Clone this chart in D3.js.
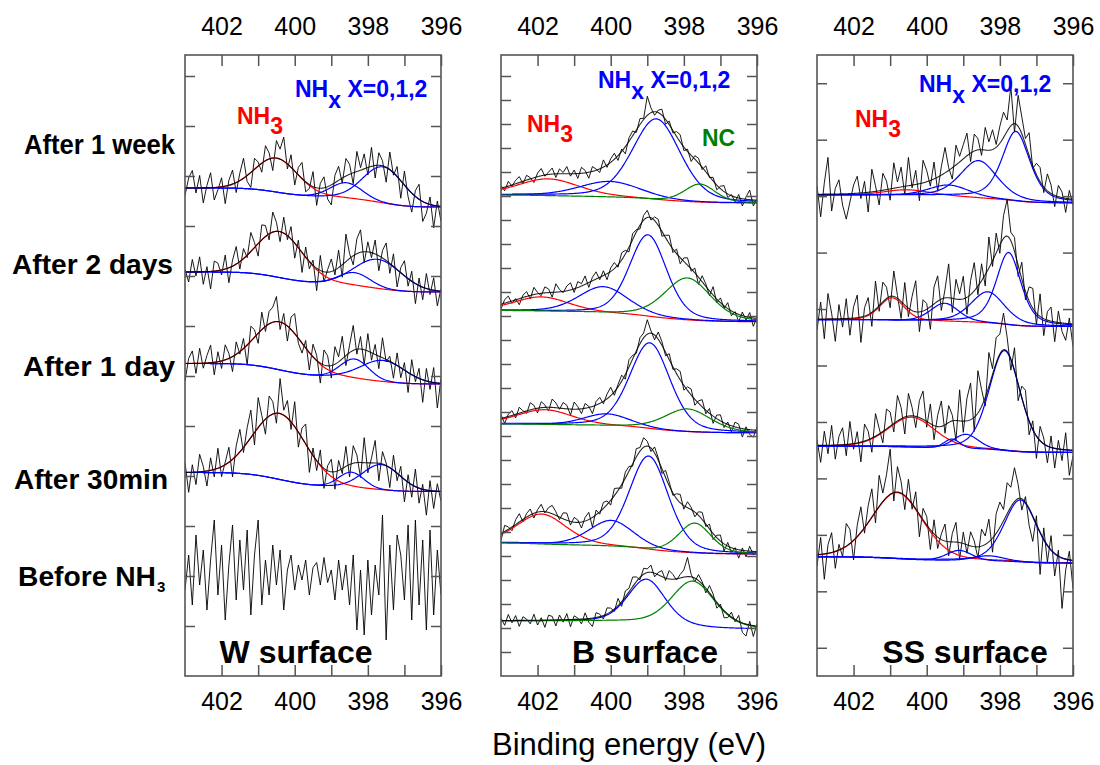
<!DOCTYPE html>
<html>
<head>
<meta charset="utf-8">
<script src="https://cdn.jsdelivr.net/npm/d3@7"></script>
<style>
  body { margin: 0; background: #fff; }
  text { font-family: "Liberation Sans", Arial, sans-serif; }
</style>
</head>
<body>
<svg id="chart" width="1100" height="765"></svg>
<script>
// ---- data ----
const energyRange = [403, 396];
const energyTicks = [402, 400, 398, 396];
const rowLabels = ['After 1 week', 'After 2 days', 'After 1 day', 'After 30min', 'Before NH'];
const panelTitles = ['W surface', 'B surface', 'SS surface'];

// background level [high BE end, low BE end], in panel units
const wBackground = [[9.76, 9.38], [8.08, 7.68], [6.25, 5.84], [4.07, 3.69], [2.02, 2.02]];
const bBackground = [[20.04, 19.71], [15.22, 14.76], [10.5, 10.13], [5.54, 5.08], [2.29, 1.96]];
const ssBackground = [[8.02, 7.88], [5.81, 5.69], [3.57, 3.46], [1.61, 1.5]];

// fitted components [species, centre eV, height, FWHM eV, lorentz share]
const wPeaks = [
  [['NH3', 400.5, 0.68, 1.37, 0], ['NHx', 398.58, 0.3, 1.0, 0], ['NHx', 397.58, 0.72, 1.3, 0]],
  [['NH3', 400.42, 0.92, 1.5, 0], ['NHx', 398.36, 0.25, 1.0, 0], ['NHx', 397.72, 0.58, 1.5, 0]],
  [['NH3', 400.42, 0.96, 1.55, 0], ['NHx', 398.36, 0.38, 0.9, 0], ['NHx', 397.58, 0.42, 1.4, 0]],
  [['NH3', 400.42, 1.32, 1.7, 0], ['NHx', 398.45, 0.3, 0.8, 0], ['NHx', 397.63, 0.5, 1.2, 0]],
  []
];
const bPeaks = [
  [['NH3', 401.71, 0.7, 2.0, 0.3], ['NHx', 400.02, 0.65, 2.0, 0.3], ['NHx', 398.75, 3.37, 1.55, 0.3], ['NC', 397.56, 0.76, 1.0, 0.3]],
  [['NH3', 401.89, 0.6, 1.8, 0.3], ['NHx', 400.2, 1.1, 1.6, 0.3], ['NHx', 398.98, 3.4, 1.2, 0.3], ['NC', 397.9, 1.75, 1.5, 0.3]],
  [['NH3', 401.8, 0.62, 1.8, 0.3], ['NHx', 400.11, 0.5, 1.5, 0.3], ['NHx', 398.93, 3.58, 1.3, 0.3], ['NC', 397.9, 0.95, 1.5, 0.3]],
  [['NH3', 401.89, 1.25, 1.6, 0.3], ['NHx', 399.98, 1.08, 1.45, 0.3], ['NHx', 398.96, 3.9, 1.27, 0.3], ['NC', 397.7, 1.25, 1.05, 0.3]],
  [['NHx', 399.02, 1.83, 1.2, 0.3], ['NC', 397.75, 1.9, 1.4, 0.3]]
];
const ssPeaks = [
  [['NH3', 400.54, 0.1, 1.5, 0.3], ['NHx', 399.4, 0.2, 1.3, 0.3], ['NHx', 398.58, 0.66, 1.2, 0.4], ['NHx', 397.56, 1.23, 0.9, 0.5]],
  [['NH3', 400.95, 0.4, 0.8, 0.3], ['NHx', 399.51, 0.32, 0.9, 0.3], ['NHx', 398.33, 0.55, 1.1, 0.4], ['NHx', 397.76, 1.28, 0.8, 0.5]],
  [['NH3', 400.42, 0.53, 1.5, 0.2], ['NHx', 399.31, 0.16, 0.5, 0.2], ['NHx', 398.93, 0.25, 0.8, 0.2], ['NHx', 397.87, 1.77, 1.0, 0.3]],
  [['NH3', 400.81, 1.17, 1.64, 0.2], ['NHx', 399.11, 0.18, 0.8, 0.2], ['NHx', 398.31, 0.09, 1.0, 0.2], ['NHx', 397.44, 1.1, 1.05, 0.3]]
];

// measured counts minus fit envelope, x0.01 panel units, 403 -> 396 eV
const wNoise = [
  [-15, 20, 35, -10, 25, -30, 5, 30, -25, -5, 18, -35, 10, 28, -20, 15, 40, -12, -30, 22, 8, -18, 30, 12, -25, 35, 20, 48, -10, 25, -28, 15, 32, -20, -8, 30, -35, 10, 22, -25, -40, 15, 28, -10, 35, 20, -22, 40, 5, 30, -15, 38, -25, 25, 10, -30, 35, -5, 20, -35, 28, -15, -38, 12, 30, -40, -20, 15, -45, 10, -30],
  [5, -20, 25, -8, 30, -25, 10, -35, 20, 15, -10, 28, -30, 12, 35, -15, 20, -5, 38, 10, -25, 30, 22, -12, 40, 18, -20, 32, -8, 25, -30, 15, -40, 20, -15, 10, -45, 30, -20, 5, 25, -10, 35, -25, 55, 10, -18, 30, 45, -22, 20, -10, 28, -30, 15, 35, -20, 25, -35, 10, 30, -15, 20, -40, 15, -25, 30, -10, 25, -30, 5],
  [-35, 10, 25, -20, 30, -10, 15, 35, -25, 20, -15, 30, 10, -30, 25, -5, 20, -40, 30, 15, -20, 35, -10, 25, 30, 50, -15, 20, -30, 25, 40, -10, -20, 15, -35, 25, 10, -40, 30, 20, -25, 35, 10, 45, -20, 15, 50, -10, 25, -30, 35, -15, 20, -25, 40, -5, 10, -30, 25, -20, 15, -40, 30, -10, 20, -45, 25, -15, 30, -50, 10],
  [20, -40, 15, -25, 35, 10, -30, 25, -15, 40, -20, 5, 30, -35, 20, 45, -10, 30, 55, -25, 60, 15, -30, 40, 25, -20, 70, 10, 35, -15, 50, -30, 20, 40, -45, 15, -20, 30, -40, 10, 25, -35, 20, -10, 40, -25, 35, 15, -30, 50, -20, 10, 45, -35, 25, 5, -40, 30, -15, 20, -45, 15, -25, 35, -30, 10, -50, 20, -35, 15, -20],
  [-30, 40, -60, 80, -20, 50, -70, 30, 110, -40, 60, -90, 20, 100, -50, 70, -30, 90, -80, 40, 110, -60, 30, -40, 60, -20, 50, -70, 10, 40, -30, 20, -10, 30, -40, 15, 25, -20, 35, -15, 10, -50, 30, -30, 20, -60, 40, -110, 10, -120, 30, -80, 20, -40, 120, -130, 60, -70, 80, 40, -50, 100, -90, 110, -60, 70, -110, 90, -80, 50, -40]
];
const bNoise = [
  [10, -15, 20, -5, 15, 25, -10, 20, 5, -20, 15, 30, -5, 10, 25, -15, 20, 5, 30, -10, 15, -20, 25, 10, -25, 20, 5, -15, 30, -10, 15, 25, -20, 10, -30, 15, 20, -10, 25, 5, 80, 20, -15, 10, 25, -20, 15, -10, 20, 30, -15, 10, -25, 15, 20, -10, 25, -5, 15, -20, 10, 25, -15, 5, -20, 15, -30, 10, 40, -25, 5],
  [-20, 15, 25, -10, 5, -25, 10, 20, -15, 30, 5, -10, 25, 15, -20, 35, 10, -5, 20, 30, -15, 25, 10, 35, -20, 15, 30, -10, 20, -25, 15, 25, -10, 30, 15, -20, 25, 10, -15, 20, 30, -10, 15, 25, -20, 10, 35, -15, 20, -25, 15, 30, -10, 20, -30, 25, 10, -20, 35, -15, 20, -10, 25, -20, 5, -30, 15, -15, 20, -35, 5],
  [15, -25, 10, 20, -15, 25, 5, -10, 30, 15, -20, 25, 10, -15, 35, 20, -5, 25, 15, -25, 30, 10, -20, 20, 5, -30, 15, 25, -10, 20, 35, -15, 10, 25, -20, 30, 15, -10, 25, 20, 60, 10, -20, 30, 15, -15, 25, -10, 20, 35, -20, 15, 25, -25, 10, 30, -15, 20, -30, 15, 25, -20, 10, -25, 20, 15, -35, 10, -20, -30, 15],
  [-30, 25, 10, -15, 20, 35, -10, 15, 25, -20, 10, 30, -5, 20, 35, 15, -10, 25, 30, -15, 20, 10, -25, 15, 30, -40, 20, -10, 25, 15, -20, 30, 10, -15, 25, 20, -10, 35, 15, 40, 20, -15, 25, 10, -20, 30, 15, -10, 20, 35, -15, 25, 10, -20, 15, 30, -10, 20, -25, 10, 25, -30, 15, -20, 5, -35, 10, -25, 20, -15, 5],
  [10, -20, 25, -10, 20, -25, 15, 5, -15, 25, -20, 10, -30, 20, 15, -25, 20, -10, 25, -30, 15, 5, -20, 25, -15, -35, 20, 10, -15, 25, 15, -10, 30, -20, 25, 15, 40, 20, -10, 25, 15, 30, -15, 10, 25, -10, 35, 20, -5, 15, 30, 80, 10, -15, 25, 10, -20, 30, 15, -25, 10, -30, -15, 20, -10, 25, -40, -50, 15, -45, 10]
];
const ssNoise = [
  [15, -40, 20, 65, -30, 10, 25, -20, -45, -15, 15, 30, -10, 20, -35, 40, 10, -25, 30, 15, -20, 45, 10, 35, -15, 50, -5, 25, -30, 40, 20, -10, 30, -25, 15, 45, 5, -20, 35, 10, 25, 40, -15, 30, 20, -10, 40, 15, 35, 5, 30, 45, 20, 70, -15, 55, 30, 10, 40, -5, 20, 25, -10, 30, 15, -20, 20, 10, -25, 15, -10],
  [-20, 30, -35, 45, 10, -40, 25, -15, 35, -30, 20, 40, -45, 15, 30, -25, 50, -10, 35, 20, -20, 45, 5, -30, 40, -15, 25, 55, -35, 20, 10, -40, 30, 45, -20, 15, 60, -25, 35, 10, 40, -30, 25, 50, -15, 30, -20, 55, -10, 35, -15, 40, 65, 15, 25, -20, 30, -15, 25, 35, -20, 40, -30, 15, 25, -35, 20, -15, -30, 10, -40],
  [10, -30, 25, -15, 35, -25, 15, 30, -20, 40, -10, 20, -35, 30, 15, -25, 40, 10, -20, 35, 25, -15, 45, 20, -30, 40, 15, -20, 30, 50, -10, 35, -25, 20, 45, -15, 30, 10, -35, 55, -20, 40, 65, -25, 75, 30, -15, 60, 10, 45, 35, 65, 25, -20, 40, -30, 20, 35, -25, 15, -40, 25, 10, -30, 20, -35, 15, -20, 30, -45, -10],
  [-20, 30, -45, 15, 35, -30, 10, -15, 40, 25, -35, 20, 45, -10, 30, 50, -20, 55, 15, 40, 80, -15, 45, 20, -25, 35, -10, 30, -40, 20, 15, -35, 25, -20, 10, 30, -25, 15, 35, -30, 20, -15, 25, 10, -20, 30, 15, 40, -25, 35, 45, 20, 55, 35, 60, 25, -20, 10, -30, -45, 15, -75, 20, -30, 25, -40, 10, -90, -20, 15, -50]
];

// ---- layout ----
const speciesColor = { NH3: '#ff0000', NHx: '#0000ff', NC: '#008000' };
const plotTop = 55, plotBottom = 676, panelW = 256;
const frameColor = '#555';

const panels = [
  { left: 185, yDomain: [0, 12.42], yTicks: d3.range(1, 13), bg: wBackground, peaks: wPeaks, noise: wNoise, titleX: 296,
    notes: [{ x: 237, y: 124, color: speciesColor.NH3, main: 'NH', sub: '3', size: 23 },
            { x: 295, y: 97, color: speciesColor.NHx, main: 'NH', sub: 'x', rest: ' X=0,1,2', size: 23 }] },
  { left: 501, yDomain: [0, 25.875], yTicks: d3.range(1, 26), bg: bBackground, peaks: bPeaks, noise: bNoise, titleX: 645,
    notes: [{ x: 527, y: 132, color: speciesColor.NH3, main: 'NH', sub: '3', size: 23 },
            { x: 598, y: 88, color: speciesColor.NHx, main: 'NH', sub: 'x', rest: ' X=0,1,2', size: 23 },
            { x: 702, y: 146, color: speciesColor.NC, main: 'NC', size: 23 }] },
  { left: 817, yDomain: [-0.5, 10.5], yTicks: d3.range(0, 11), bg: ssBackground, peaks: ssPeaks, noise: ssNoise, titleX: 965,
    notes: [{ x: 855, y: 127, color: speciesColor.NH3, main: 'NH', sub: '3', size: 23 },
            { x: 919, y: 92, color: speciesColor.NHx, main: 'NH', sub: 'x', rest: ' X=0,1,2', size: 23 }] }
];

const svg = d3.select('#chart');

function peakShape(p, e) {
  const [, c, h, w, m] = p;
  const t = (e - c) * (e - c) / (w * w);
  return h * ((1 - m) * Math.exp(-4 * Math.LN2 * t) + m / (1 + 4 * t));
}

// components on a Shirley-type background, evaluated on a fine energy grid
function buildSpectrum(bg, peaks) {
  const n = 351;
  const E = d3.range(n).map(j => energyRange[0] - (energyRange[0] - energyRange[1]) * j / (n - 1));
  const comps = peaks.map(p => E.map(e => peakShape(p, e)));
  const sum = E.map((e, j) => d3.sum(comps, c => c[j]));
  const cum = new Array(n).fill(0);
  for (let j = n - 2; j >= 0; j--) cum[j] = cum[j + 1] + (sum[j] + sum[j + 1]) / 2;
  const total = cum[0] || 1;
  const base = cum.map(c => bg[1] + (bg[0] - bg[1]) * c / total);
  return { E, comps, sum, base, n };
}

panels.forEach((p, pi) => {
  const x = d3.scaleLinear().domain(energyRange).range([p.left, p.left + panelW]);
  const y = d3.scaleLinear().domain(p.yDomain).range([plotBottom, plotTop]);
  const g = svg.append('g');

  const clipId = 'clip' + pi;
  svg.append('clipPath').attr('id', clipId).append('rect')
    .attr('x', p.left).attr('y', plotTop).attr('width', panelW).attr('height', plotBottom - plotTop);

  const plot = g.append('g').attr('clip-path', `url(#${clipId})`);
  const line = d3.line().x(d => x(d[0])).y(d => y(d[1]));

  p.bg.forEach((bg, si) => {
    const s = buildSpectrum(bg, p.peaks[si]);
    const noise = p.noise[si];
    const raw = noise.map((r, i) => {
      const j = Math.round(i * (s.n - 1) / (noise.length - 1));
      return [s.E[j], s.base[j] + s.sum[j] + r / 100];
    });
    plot.append('path').datum(raw).attr('d', line)
      .attr('fill', 'none').attr('stroke', '#000').attr('stroke-width', 0.9);

    p.peaks[si].forEach((pk, k) => {
      const pts = s.E.map((e, j) => [e, s.base[j] + s.comps[k][j]]);
      plot.append('path').datum(pts).attr('d', line)
        .attr('fill', 'none').attr('stroke', speciesColor[pk[0]]).attr('stroke-width', 1.2);
    });
    if (p.peaks[si].length) {
      const env = s.E.map((e, j) => [e, s.base[j] + s.sum[j]]);
      plot.append('path').datum(env).attr('d', line)
        .attr('fill', 'none').attr('stroke', '#000').attr('stroke-width', 1.1).attr('stroke-opacity', 0.85);
    }
  });

  // axes: ticks point inwards, labels on top and bottom
  const minor = d3.range(396, 403);
  const fmt = d => energyTicks.includes(d) ? d : '';
  const axT = g.append('g').attr('transform', `translate(0,${plotTop})`)
    .call(d3.axisTop(x).tickValues(minor).tickFormat(fmt).tickSize(-11).tickPadding(20));
  const axB = g.append('g').attr('transform', `translate(0,${plotBottom})`)
    .call(d3.axisBottom(x).tickValues(minor).tickFormat(fmt).tickSize(-11).tickPadding(16));
  const axL = g.append('g').attr('transform', `translate(${p.left},0)`)
    .call(d3.axisLeft(y).tickValues(p.yTicks).tickFormat('').tickSize(-10));
  const axR = g.append('g').attr('transform', `translate(${p.left + panelW},0)`)
    .call(d3.axisRight(y).tickValues(p.yTicks).tickFormat('').tickSize(-10));
  [axT, axB, axL, axR].forEach(a => {
    a.select('.domain').remove();
    a.selectAll('line').attr('stroke', frameColor).attr('stroke-width', 1.5);
    a.selectAll('text').attr('font-size', 25).attr('fill', '#000')
      .style('font-family', '"Liberation Sans", Arial, sans-serif');
  });

  g.append('rect').attr('x', p.left).attr('y', plotTop).attr('width', panelW).attr('height', plotBottom - plotTop)
    .attr('fill', 'none').attr('stroke', frameColor).attr('stroke-width', 1.6);

  g.append('text').attr('x', p.titleX).attr('y', 663)
    .attr('text-anchor', 'middle').attr('font-size', 32).attr('font-weight', 'bold')
    .text(panelTitles[pi]);

  p.notes.forEach(n => {
    const t = g.append('text').attr('x', n.x).attr('y', n.y).attr('fill', n.color)
      .attr('font-size', n.size).attr('font-weight', 'bold');
    t.append('tspan').text(n.main);
    if (n.sub) t.append('tspan').attr('dy', n.sub === 'x' ? 11 : 9.5).text(n.sub);
    if (n.rest) t.append('tspan').attr('dy', -11).text(n.rest);
  });
});

// row labels, stretched to the extents seen in the figure
const rowY = [154, 274, 376, 489, 586];
const rowLeft = [24, 12, 23, 14, 18];
const rowRight = [175, 173, 175, 168, 156];
rowLabels.forEach((lab, i) => {
  svg.append('text').attr('x', rowLeft[i]).attr('y', rowY[i])
    .attr('textLength', rowRight[i] - rowLeft[i]).attr('lengthAdjust', 'spacingAndGlyphs')
    .attr('font-size', 27).attr('font-weight', 'bold').text(lab);
  if (i === 4) {
    svg.append('text').attr('x', rowRight[i] + 1).attr('y', rowY[i] + 6)
      .attr('font-size', 15).attr('font-weight', 'bold').text('3');
  }
});

svg.append('text').attr('x', 629).attr('y', 755).attr('text-anchor', 'middle')
  .attr('font-size', 31).text('Binding energy (eV)');
</script>
</body>
</html>
